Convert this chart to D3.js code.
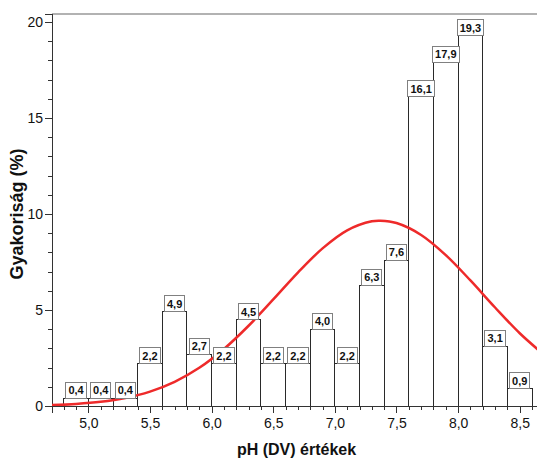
<!DOCTYPE html>
<html>
<head>
<meta charset="utf-8">
<script src="https://cdn.jsdelivr.net/npm/d3@7"></script>
<style>
  html, body { margin: 0; padding: 0; background: #fff; }
  svg { display: block; }
</style>
</head>
<body>
<svg id="chart" width="537" height="459"></svg>
<script>
// pH histogram: bin start values (bins are 0.2 wide) and their frequencies in %
const binStarts = [4.8, 5.0, 5.2, 5.4, 5.6, 5.8, 6.0, 6.2, 6.4, 6.6, 6.8, 7.0, 7.2, 7.4, 7.6, 7.8, 8.0, 8.2, 8.4];
const binWidth = 0.2;
const percents = [0.4, 0.4, 0.4, 2.2, 4.9, 2.7, 2.2, 4.5, 2.2, 2.2, 4.0, 2.2, 6.3, 7.6, 16.1, 17.9, 19.3, 3.1, 0.9];

// fitted normal curve, sampled along the pH axis (value in %)
const curveX = [4.7, 4.9, 5.1, 5.3, 5.5, 5.7, 5.9, 6.1, 6.3, 6.5, 6.7, 6.9, 7.1, 7.3, 7.37, 7.5, 7.7, 7.9, 8.1, 8.3, 8.5, 8.7];
const curveY = [0.05, 0.11, 0.22, 0.42, 0.75, 1.26, 1.99, 2.97, 4.18, 5.55, 6.95, 8.21, 9.15, 9.62, 9.65, 9.53, 8.91, 7.86, 6.54, 5.13, 3.79, 2.65];

// axis ticks
const xMajorTicks = [5.0, 5.5, 6.0, 6.5, 7.0, 7.5, 8.0, 8.5];
const xMinorTicks = [4.8, 4.9, 5.1, 5.2, 5.3, 5.4, 5.6, 5.7, 5.8, 5.9, 6.1, 6.2, 6.3, 6.4, 6.6, 6.7, 6.8, 6.9,
                     7.1, 7.2, 7.3, 7.4, 7.6, 7.7, 7.8, 7.9, 8.1, 8.2, 8.3, 8.4, 8.6];
const yMajorTicks = [0, 5, 10, 15, 20];
const yMinorTicks = [1, 2, 3, 4, 6, 7, 8, 9, 11, 12, 13, 14, 16, 17, 18, 19];

const xTitle = "pH (DV) értékek";
const yTitle = "Gyakoriság (%)";

const svg = d3.select("#chart");
const plotLeft = 52, plotRight = 537, plotTop = 14, plotBottom = 406;
const FONT = "Arial, 'Liberation Sans', Helvetica, sans-serif";

const x = d3.scaleLinear().domain([4.705, 8.64]).range([plotLeft, plotRight]);
const y = d3.scaleLinear().domain([0, 20.42]).range([plotBottom, plotTop]);

const comma = v => d3.format(".1f")(v).replace(".", ",");

svg.append("clipPath").attr("id", "plotClip")
  .append("rect").attr("x", plotLeft).attr("y", 0).attr("width", plotRight - plotLeft).attr("height", plotBottom);

// histogram bars
svg.append("g").selectAll("rect").data(binStarts).join("rect")
  .attr("x", d => x(d))
  .attr("y", (d, i) => y(percents[i]))
  .attr("width", d => x(d + binWidth) - x(d))
  .attr("height", (d, i) => y(0) - y(percents[i]))
  .attr("fill", "#fff")
  .attr("stroke", "#2a2a2a")
  .attr("stroke-width", 1)
  .attr("shape-rendering", "crispEdges");

// top frame line
svg.append("line")
  .attr("x1", plotLeft).attr("x2", plotRight).attr("y1", plotTop).attr("y2", plotTop)
  .attr("stroke", "#666").attr("stroke-width", 1.2);

// axes
const xAxisMajor = d3.axisBottom(x).tickValues(xMajorTicks).tickSize(7).tickPadding(5).tickFormat(comma);
const xAxisMinor = d3.axisBottom(x).tickValues(xMinorTicks).tickSize(4).tickFormat("");
const yAxisMajor = d3.axisLeft(y).tickValues(yMajorTicks).tickSize(7).tickPadding(2).tickFormat(d3.format("d"));
const yAxisMinor = d3.axisLeft(y).tickValues(yMinorTicks).tickSize(4).tickFormat("");

function styleAxis(g) {
  g.selectAll("path").attr("stroke", "#333").attr("shape-rendering", "crispEdges");
  g.selectAll("line").attr("stroke", "#333").attr("shape-rendering", "crispEdges");
  g.selectAll("text").attr("font-family", FONT).attr("font-size", 14).attr("fill", "#111");
}

svg.append("g").attr("transform", `translate(0,${plotBottom})`).call(xAxisMinor).call(g => { g.select(".domain").remove(); styleAxis(g); });
svg.append("g").attr("transform", `translate(0,${plotBottom})`).call(xAxisMajor).call(styleAxis);
svg.append("g").attr("transform", `translate(${plotLeft},0)`).call(yAxisMinor).call(g => { g.select(".domain").remove(); styleAxis(g); });
svg.append("g").attr("transform", `translate(${plotLeft},0)`).call(yAxisMajor).call(styleAxis);

// normal curve
const line = d3.line()
  .x((d, i) => x(curveX[i]))
  .y(d => y(d))
  .curve(d3.curveCatmullRom);
svg.append("path")
  .datum(curveY)
  .attr("clip-path", "url(#plotClip)")
  .attr("d", line)
  .attr("fill", "none")
  .attr("stroke", "#ee2a2a")
  .attr("stroke-width", 2.5);

// value labels in boxes above the bars
const labels = svg.append("g").selectAll("g").data(binStarts).join("g")
  .attr("transform", (d, i) => `translate(${x(d + binWidth / 2)},${y(percents[i])})`);
labels.each(function (d, i) {
  const g = d3.select(this);
  const t = g.append("text")
    .attr("text-anchor", "middle")
    .attr("y", -4)
    .attr("font-family", FONT)
    .attr("font-weight", "bold")
    .attr("font-size", 11)
    .attr("fill", "#111")
    .text(comma(percents[i]));
  const w = t.node().getComputedTextLength() + 5;
  g.insert("rect", "text")
    .attr("x", -w / 2).attr("y", -16)
    .attr("width", w).attr("height", 16)
    .attr("fill", "#fff")
    .attr("stroke", "#808080")
    .attr("stroke-width", 1)
    .attr("shape-rendering", "crispEdges");
});

// axis titles
svg.append("text")
  .attr("x", (plotLeft + plotRight) / 2 + 2).attr("y", 455)
  .attr("text-anchor", "middle")
  .attr("font-family", FONT).attr("font-weight", "bold").attr("font-size", 16)
  .attr("fill", "#111")
  .text(xTitle);

svg.append("text")
  .attr("transform", `translate(23,${(plotTop + plotBottom) / 2 + 4}) rotate(-90)`)
  .attr("text-anchor", "middle")
  .attr("font-family", FONT).attr("font-weight", "bold").attr("font-size", 18)
  .attr("fill", "#111")
  .text(yTitle);
</script>
</body>
</html>
